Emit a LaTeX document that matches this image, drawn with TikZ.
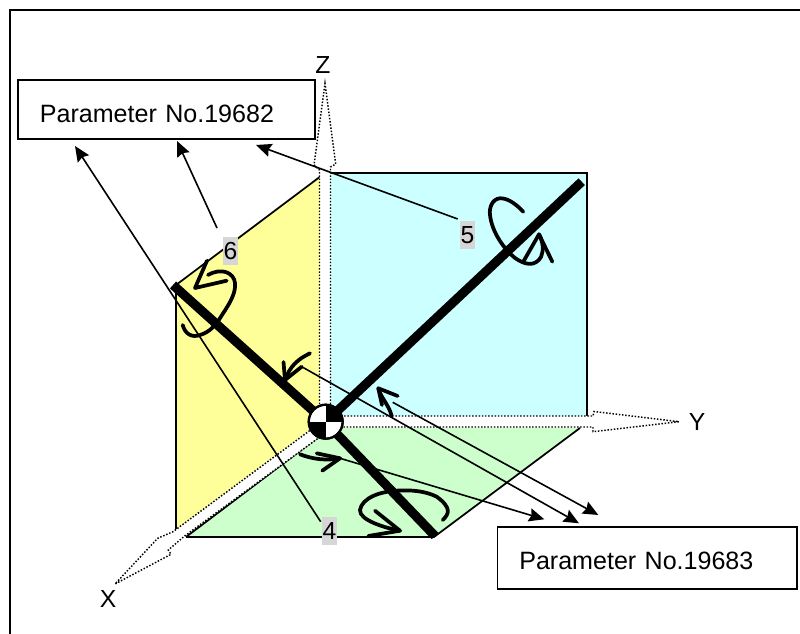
\documentclass[tikz,border=0pt]{standalone}
\usepackage{fontspec}
\setmainfont{Liberation Sans}
\usetikzlibrary{arrows.meta}
\tikzset{
 x=0.75pt,y=-0.75pt,
 frame/.style={draw=black,line width=1.3pt},
 plane/.style={draw=black,line width=1.3pt},
 axisarrow/.style={draw=black,fill=white,line width=1.1pt,dash pattern=on 1.1pt off 1.3pt},
 rod/.style={draw=black,line width=6.9pt},
 rot/.style={draw=black,line width=2.8pt,line cap=round,line join=round},
 lead/.style={draw=black,line width=1.2pt,-{Stealth[length=11.5pt,width=10pt,inset=1.5pt]}},
 tag/.style={fill=black!16,inner sep=0pt,minimum width=11.25pt,minimum height=21pt,font=\fontsize{18.5}{20}\selectfont},
 lab/.style={inner sep=0pt,font=\fontsize{18.5}{20}\selectfont},
 box/.style={draw=black,fill=white,line width=1.3pt,inner sep=0pt,font=\fontsize{18.8}{21}\selectfont,align=left},
}
\begin{document}
\begin{tikzpicture}
\useasboundingbox (0,0) rectangle (800,634);
\draw[frame] (10,640) |- (800,10);
% planes
\fill[fill={rgb,255:red,204;green,255;blue,255}] (325,173) rectangle (587,418);
\draw[plane] (325,173) -- (587,173) -- (587,418);
\fill[fill={rgb,255:red,255;green,255;blue,153}] (176,285) -- (325,173) -- (325,418) -- (176,530) -- cycle;
\draw[plane] (176,530) -- (176,285) -- (325,173);
\fill[fill={rgb,255:red,204;green,255;blue,204}] (325,428) -- (580,428) -- (434,537) -- (186,537) -- cycle;
\draw[plane] (186,537) -- (325,432);
\draw[plane] (186,537) -- (434,537) -- (580,428);
% axes
\filldraw[axisarrow] (319.5,420) -- (319.5,170) -- (314,165) -- (325,83.5) -- (335.7,164) -- (330.5,167) -- (330.5,420) -- cycle;
\filldraw[axisarrow] (325,416) -- (593,416) -- (594,411.5) -- (679,421.7) -- (593,431.7) -- (593,427) -- (325,427) -- cycle;
\filldraw[axisarrow] (320,423) -- (173,531.7) -- (157.7,538.3) -- (115,584) -- (171,554.3) -- (168.3,550) -- (185,535.7) -- (328,431) -- cycle;
% rods
\draw[rod] (173,285) -- (325.5,422);
\draw[rod] (325.5,422) -- (435,536);
\draw[rod] (325.5,422) -- (581.7,181.7);
% centre symbol
\node[circle,draw=black,fill=white,line width=1.6pt,minimum size=25.5pt,inner sep=0pt] (c) at (325.7,421.7) {};
\begin{scope}
\clip (c.center) circle[radius=17];
\fill[black] (c.center) rectangle ++(20,-20);
\fill[black] (c.center) rectangle ++(-20,20);
\end{scope}
\draw[black,line width=1.6pt] (c.center) circle[radius=17];
% boxes
\node[box,text height=32pt,text depth=12.5pt,anchor=north west,text width=222.75pt] (b1) at (17.3,79) {\hspace*{16.3pt}Parameter No.19682};
\node[box,text height=32.2pt,text depth=14.5pt,anchor=north west,text width=224.5pt] (b2) at (496.7,526) {\hspace*{16.3pt}Parameter No.19683};
% labels
\node[lab] (z) at (323,65) {Z};
\node[lab] (y) at (697,422) {Y};
\node[lab] (x) at (108,599) {X};
\node[tag] (t6) at (230.5,251) {6};
\node[tag] (t5) at (467.5,235) {5};
\node[tag] (t4) at (329.5,531) {4};
% leader lines
\coordinate (p4) at (75,146);
\coordinate (p5) at (256,145);
\coordinate (p6) at (177,141);
\coordinate (s4) at (320.7,521.7);
\coordinate (s5) at (457.7,219);
\coordinate (s6) at (217,228);
\draw[lead] (s4) -- (p4);
\draw[lead] (s5) -- (p5);
\draw[lead] (s6) -- (p6);
\coordinate (p1) at (579,523.3);
\coordinate (p2) at (598.3,515);
\coordinate (p3) at (544.3,519.3);
\coordinate (q1) at (301.7,366.7);
\coordinate (q2) at (392.7,402.3);
\coordinate (q3) at (340,458.3);
\draw[lead] (q1) -- (p1);
\draw[lead] (q2) -- (p2);
\draw[lead] (q3) -- (p3);
% rotation marks
\draw[rot] (310,353.3) ..controls (298,359) and (290,366) .. (285,380);
\draw[rot] (283.5,362) -- (285,380) -- (301.7,366.7);
\draw[rot] (391.7,416) ..controls (389,405) and (381,398) .. (378.3,388.3);
\draw[rot] (397.7,396) -- (378.3,388.3) -- (382,405);
\draw[rot] (300,454.3) ..controls (312,459) and (326,461) .. (340,458.3);
\draw[rot] (316.7,453.3) -- (340,458.3) -- (322.3,470.7);
\draw[rot] (207,260.7) -- (195,288) -- (226.7,280.7);
\draw[rot] (182.7,325) ..controls (185,334) and (192,338) .. (200,335) ..controls (210,332) and (216,325) .. (222,315) ..controls (230,303) and (236,293) .. (235,283) ..controls (234,273) and (222,267) .. (208,275);
\draw[rot] (523.3,211.7) ..controls (515,203) and (507,198) .. (500,198.3) ..controls (492,199) and (489,208) .. (490,215) ..controls (492,233) and (505,250) .. (515,258) ..controls (525,265) and (535,267) .. (541,257) ..controls (544,250) and (543,242) .. (539,234.3);
\draw[rot] (523.3,261.7) -- (539,234.3) -- (552.3,261.7);
\draw[rot] (442.7,520) ..controls (449,514) and (452,508) .. (436.7,496.7) ..controls (425,491) and (412,490) .. (400,490.5) ..controls (380,491) and (362,498) .. (360,510) ..controls (359,520) and (385,528) .. (400,530.7);
\draw[rot] (375,510.7) -- (400,530.7) -- (368.3,536);
\end{tikzpicture}
\end{document}
